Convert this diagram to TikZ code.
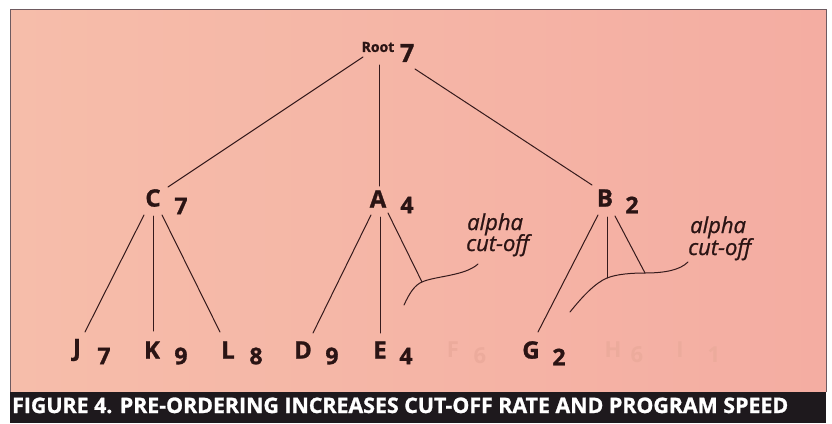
\documentclass[tikz,border=0pt]{standalone}
\usepackage{fontspec}
\setmainfont{Open Sans}
\newfontfamily\heavyfont{Open Sans}[BoldFeatures={FakeBold=1.2}]
\newfontfamily\notefont{Open Sans}[ItalicFeatures={FakeBold=0.9}]
\usetikzlibrary{calc}
\definecolor{bgl}{HTML}{F6BDAA}
\definecolor{bgm}{HTML}{F7C1AE}
\definecolor{bgr}{HTML}{F4ADA2}
\definecolor{ink}{HTML}{351A1C}
\definecolor{txt}{HTML}{2A1414}
\definecolor{barc}{HTML}{1E191D}
\definecolor{edgec}{HTML}{6E5A60}
\definecolor{ghost}{HTML}{ECAB9C}
\begin{document}
\begin{tikzpicture}[x=1pt,y=-1pt,
  link/.style={draw=ink, line width=1pt, line cap=round},
  letter/.style={text=txt, inner sep=0pt, font=\heavyfont\fontsize{24}{24}\selectfont\bfseries},
  val/.style={text=txt, inner sep=0pt, font=\heavyfont\fontsize{23}{23}\selectfont\bfseries},
  ghostlbl/.style={text=ghost, inner sep=0pt, font=\fontsize{22}{22}\selectfont\bfseries},
  note/.style={text=txt, inner sep=0pt, anchor=base west, font=\notefont\fontsize{22}{22}\selectfont\itshape}]
\useasboundingbox (0,0) rectangle (832,423);
\fill[white] (0,0) rectangle (832,423);
\shade[left color=bgl, middle color=bgm, right color=bgr] (10,9) rectangle (826,392);
\fill[barc] (10,392) rectangle (826,423);
\draw[edgec, line width=0.8pt] (10,392) -- (10,9) -- (826,9) -- (826,392);

% root
\node[text=txt, inner sep=0pt, font=\heavyfont\fontsize{14}{14}\selectfont\bfseries] (root) at (378,47) {Root};
\node[text=txt, inner sep=0pt, font=\heavyfont\fontsize{25}{25}\selectfont\bfseries] (rootv) at (407,53) {7};

% level 1
\node[letter] (C) at (153,198) {C};
\node[val] (Cv) at (181,206) {7};
\node[letter] (A) at (378,199) {A};
\node[val] (Av) at (407,205) {4};
\node[letter] (B) at (605,198) {B};
\node[val] (Bv) at (632,205) {2};

% leaves
\node[letter] (J) at (77,350) {J};
\node[val] (Jv) at (104,356) {7};
\node[letter] (K) at (152,350) {K};
\node[val] (Kv) at (181,356) {9};
\node[letter] (L) at (228,350) {L};
\node[val] (Lv) at (256,356) {8};
\node[letter] (D) at (303,350) {D};
\node[val] (Dv) at (332,356) {9};
\node[letter] (E) at (380,350) {E};
\node[val] (Ev) at (406,356) {4};
\node[ghostlbl] (F) at (453,350) {F};
\node[ghostlbl] (Fv) at (480,356) {6};
\node[letter] (G) at (531,350) {G};
\node[val] (Gv) at (559,357) {2};
\node[ghostlbl] (H) at (613,350) {H};
\node[ghostlbl] (Hv) at (637,355) {6};
\node[ghostlbl] (I) at (680,350) {I};
\node[ghostlbl] (Iv) at (714,355) {1};

% cut-off junction points
\coordinate (Acut) at (422,282);
\coordinate (Bcut1) at (607,278);
\coordinate (Bcut2) at (645,273);

% root edges
\draw[link] ($(root)+(-15,10)$) -- ($(C)+(15,-11)$);
\draw[link] ($(root)+(1,18)$) -- ($(A)+(1,-13)$);
\draw[link] ($(rootv)+(8,16)$) -- ($(B)+(-13,-13)$);

% C edges
\draw[link] ($(C)+(-9,17)$) -- ($(J)+(8,-18)$);
\draw[link] ($(C)+(0,18)$) -- ($(K)+(1,-19)$);
\draw[link] ($(C)+(9,17)$) -- ($(L)+(-8,-18)$);

% A edges
\draw[link] ($(A)+(-7,16)$) -- ($(D)+(10,-17)$);
\draw[link] ($(A)+(2,18)$) -- ($(E)+(0,-17)$);
\draw[link] ($(A)+(10,14)$) -- (Acut);

% B edges
\draw[link] ($(B)+(-7,17)$) -- ($(G)+(7,-18)$);
\draw[link] ($(B)+(2,19)$) -- (Bcut1);
\draw[link] ($(B)+(10,18)$) -- (Bcut2);

% cut-off curves
\draw[link] (404,305) .. controls (410,292) and (415,285) .. (Acut)
  .. controls (435,276) and (465,276) .. (478,264);
\draw[link] (570,312) .. controls (582,297) and (595,283) .. (Bcut1)
  .. controls (617,274) and (632,273) .. (Bcut2)
  .. controls (665,273) and (680,270) .. (688,262);

% notes
\node[note] (n1a) at (467,230) {alpha};
\node[note] (n1b) at (466,251) {cut-off};
\node[note] (n2a) at (690,233) {alpha};
\node[note] (n2b) at (688,255) {cut-off};

% caption
\node[text=white, inner sep=0pt, anchor=base west] (cap) at (12,413)
  {\resizebox{776pt}{!}{\heavyfont\fontsize{18}{18}\selectfont\bfseries FIGURE 4. PRE-ORDERING INCREASES CUT-OFF RATE AND PROGRAM SPEED}};
\end{tikzpicture}
\end{document}
